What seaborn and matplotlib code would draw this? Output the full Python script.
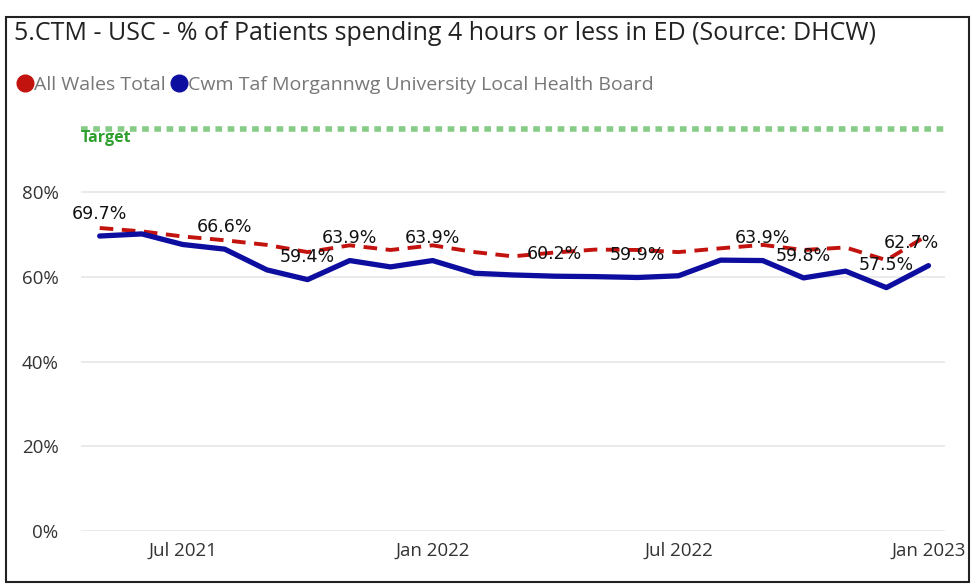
import pandas as pd
import matplotlib.pyplot as plt
import matplotlib.dates as mdates
from matplotlib.lines import Line2D
from matplotlib.patches import Rectangle
import seaborn as sns

# ---------------------------- data ----------------------------
months = ["2021-05", "2021-06", "2021-07", "2021-08", "2021-09", "2021-10", "2021-11",
          "2021-12", "2022-01", "2022-02", "2022-03", "2022-04", "2022-05", "2022-06",
          "2022-07", "2022-08", "2022-09", "2022-10", "2022-11", "2022-12", "2023-01"]
all_wales = [71.6, 70.8, 69.6, 68.7, 67.6, 65.9, 67.5, 66.4, 67.5, 65.9, 64.9,
             65.8, 66.5, 66.4, 65.9, 66.8, 67.6, 66.4, 67.0, 64.0, 70.0]
ctm = [69.7, 70.2, 67.7, 66.6, 61.7, 59.4, 63.9, 62.4, 63.9, 60.9, 60.5,
       60.2, 60.1, 59.9, 60.3, 64.0, 63.9, 59.8, 61.4, 57.5, 62.7]
labelled = ["2021-05", "2021-08", "2021-10", "2021-11", "2022-01", "2022-04",
            "2022-06", "2022-09", "2022-10", "2022-12", "2023-01"]
target = 95
yticks = [0, 20, 40, 60, 80]
xticks = ["2021-07", "2022-01", "2022-07", "2023-01"]

df = pd.DataFrame({"Month": pd.to_datetime(months), "All Wales Total": all_wales,
                   "Cwm Taf Morgannwg University Local Health Board": ctm})

# ---------------------------- plot ----------------------------
sns.set_theme(style="white")
plt.rcParams["font.family"] = ["Open Sans", "DejaVu Sans"]

fig = plt.figure(figsize=(9.72, 5.84), dpi=100)
ax = fig.add_axes([0.083, 0.091, 0.889, 0.712])

red = "#C3130E"
blue = "#0D0DA0"

ax.axhline(target, color="#86CB86", lw=4, ls=(0, (1.2, 1.0)), zorder=1)
ax.text(pd.Timestamp("2021-04-17"), target - 2.2, "Target", color="#2E9E2E",
        fontsize=11.5, fontweight="bold", va="center", ha="left")

sns.lineplot(data=df, x="Month", y="All Wales Total", ax=ax, color=red, lw=2.8,
             dashes=False, zorder=3)
ax.lines[-1].set_linestyle((0, (3.5, 2.2)))
sns.lineplot(data=df, x="Month", y="Cwm Taf Morgannwg University Local Health Board",
             ax=ax, color=blue, lw=3.8, zorder=4)

for m in labelled:
    i = months.index(m)
    dx = -12 if m == "2023-01" else 0
    ax.annotate(f"{ctm[i]:.1f}%", (df["Month"][i], ctm[i]), xytext=(dx, 16),
                textcoords="offset points", ha="center", va="center",
                fontsize=12.5, color="#111111", family="DejaVu Sans", zorder=5)

ax.set_xlim(pd.Timestamp("2021-04-17"), pd.Timestamp("2023-01-13"))
ax.set_ylim(0, 98.3)
ax.set_yticks(yticks)
ax.set_yticklabels([f"{v}%" for v in yticks])
ax.set_xticks(pd.to_datetime(xticks))
ax.xaxis.set_major_formatter(mdates.DateFormatter("%b %Y"))
ax.tick_params(axis="both", labelsize=13.5, colors="#333333", length=0)
ax.tick_params(axis="x", pad=8)
ax.tick_params(axis="y", pad=16)
ax.grid(axis="y", color="#E6E6E6", lw=1.2)
ax.grid(axis="x", visible=False)
ax.set_xlabel("")
ax.set_ylabel("")
sns.despine(ax=ax, left=True, bottom=True)

fig.text(0.014, 0.943, "5.CTM - USC - % of Patients spending 4 hours or less in ED (Source: DHCW)",
         fontsize=18, color="#222222", va="center", ha="left")

handles = [Line2D([], [], marker="o", ls="", color=red, markersize=12),
           Line2D([], [], marker="o", ls="", color=blue, markersize=12)]
fig.legend(handles, ["All Wales Total", "Cwm Taf Morgannwg University Local Health Board"],
           loc="center left", bbox_to_anchor=(0.0, 0.855), ncol=2, frameon=False,
           fontsize=14, labelcolor="#777777", handletextpad=0.05, columnspacing=0.3,
           handlelength=0.8)

fig.patches.append(Rectangle((0.006, 0.003), 0.991, 0.968, transform=fig.transFigure,
                             fill=False, edgecolor="#222222", lw=1.5))

fig.savefig("out.png", dpi=100)
